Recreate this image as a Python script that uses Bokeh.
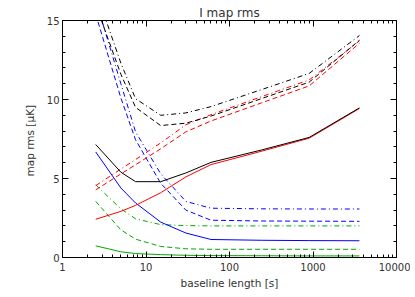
from bokeh.plotting import figure
from bokeh.models import (Range1d, LinearAxis, LogAxis, FixedTicker,
                          SingleIntervalTicker, BasicTickFormatter)
from bokeh.embed import file_html
from bokeh.resources import INLINE

# ---- data ----
baseline = [2.5, 5, 7.5, 15, 30, 60, 240, 900, 3600]

black_solid   = [7.15, 5.40, 4.80, 4.80, 5.35, 6.02, 6.80, 7.60, 9.47]
black_dashed  = [16.0, 11.6, 9.50, 8.35, 8.50, 8.95, 10.05, 11.10, 13.75]
black_dashdot = [16.9, 12.3, 10.05, 9.00, 9.15, 9.55, 10.62, 11.65, 14.05]

red_solid   = [2.42, 2.92, 3.30, 4.10, 5.10, 5.88, 6.72, 7.55, 9.43]
red_dashed  = [4.28, 5.29, 5.87, 6.88, 7.95, 8.64, 9.78, 10.86, 13.56]
red_dashdot = [4.55, 5.60, 6.20, 7.25, 8.40, 9.04, 10.17, 11.24, 13.71]

blue_solid   = [6.68, 4.40, 3.45, 2.24, 1.55, 1.14, 1.09, 1.07, 1.06]
blue_dashed  = [15.4, 10.1, 7.45, 4.70, 3.00, 2.36, 2.31, 2.30, 2.29]
blue_dashdot = [16.3, 11.0, 7.95, 5.30, 3.55, 3.12, 3.08, 3.07, 3.07]

green_solid   = [0.74, 0.36, 0.25, 0.18, 0.14, 0.12, 0.11, 0.10, 0.10]
green_dashed  = [3.55, 1.75, 1.16, 0.70, 0.55, 0.52, 0.52, 0.52, 0.52]
green_dashdot = [4.60, 3.08, 2.45, 2.08, 2.02, 2.00, 2.00, 2.00, 2.00]

x_major = [1, 10, 100, 1000, 10000]
title_text = "I map rms"
x_label = "baseline length [s]"
y_label = "map rms  [\u03bcK]"

# ---- styling ----
FONT = "DejaVu Sans"
TXT = "#333333"
DASH = "5 3"
DASHDOT = "5 3 1 3"
GREEN = "#00a800"

p = figure(width=410, height=292, x_axis_type="log",
           x_range=Range1d(1, 10000), y_range=Range1d(0, 15),
           output_backend="svg", toolbar_location=None,
           min_border_left=62, min_border_right=14,
           min_border_top=20, min_border_bottom=35)
p.xgrid.visible = False
p.ygrid.visible = False
p.outline_line_color = "black"
p.background_fill_color = "white"
p.border_fill_color = "white"

p.title.text = title_text
p.title.align = "center"
p.title.text_font = FONT
p.title.text_font_size = "12px"
p.title.text_font_style = "normal"
p.title.text_color = TXT
p.title.standoff = 2
p.title.offset = 0

x_minor = [m * 10 ** k for k in range(4) for m in range(2, 10)]
xt = FixedTicker(ticks=x_major, minor_ticks=x_minor)
yt = SingleIntervalTicker(interval=5, num_minor_ticks=5)


def style_axis(ax, labels=True):
    ax.major_tick_in = 6
    ax.major_tick_out = 0
    ax.minor_tick_in = 3
    ax.minor_tick_out = 0
    ax.axis_line_color = "black"
    ax.major_tick_line_color = "black"
    ax.minor_tick_line_color = "black"
    if labels:
        ax.major_label_text_font = FONT
        ax.major_label_text_font_size = "10px"
        ax.major_label_text_color = TXT
        ax.axis_label_text_font = FONT
        ax.axis_label_text_font_size = "10.5px"
        ax.axis_label_text_color = TXT
        ax.axis_label_text_font_style = "normal"
    else:
        ax.major_label_text_font_size = "1px"
        ax.major_label_text_alpha = 0
        ax.major_label_standoff = 0


xa = p.xaxis[0]
xa.ticker = xt
xa.formatter = BasicTickFormatter(use_scientific=False)
xa.axis_label = x_label
xa.major_label_standoff = 5
xa.axis_label_standoff = 3
style_axis(xa)

ya = p.yaxis[0]
ya.ticker = yt
ya.axis_label = y_label
ya.major_label_standoff = 3
ya.axis_label_standoff = 8
style_axis(ya)

top = LogAxis(ticker=xt)
style_axis(top, labels=False)
p.add_layout(top, "above")

right = LinearAxis(ticker=yt)
style_axis(right, labels=False)
p.add_layout(right, "right")

series = [
    (green_solid, GREEN, "solid"), (green_dashed, GREEN, DASH), (green_dashdot, GREEN, DASHDOT),
    (blue_solid, "blue", "solid"), (blue_dashed, "blue", DASH), (blue_dashdot, "blue", DASHDOT),
    (red_solid, "red", "solid"), (red_dashed, "red", DASH), (red_dashdot, "red", DASHDOT),
    (black_solid, "black", "solid"), (black_dashed, "black", DASH), (black_dashdot, "black", DASHDOT),
]
for vals, col, dash in series:
    p.line(baseline, vals, line_color=col, line_dash=dash, line_width=1)

open("out.html", "w").write(file_html(p, INLINE))
